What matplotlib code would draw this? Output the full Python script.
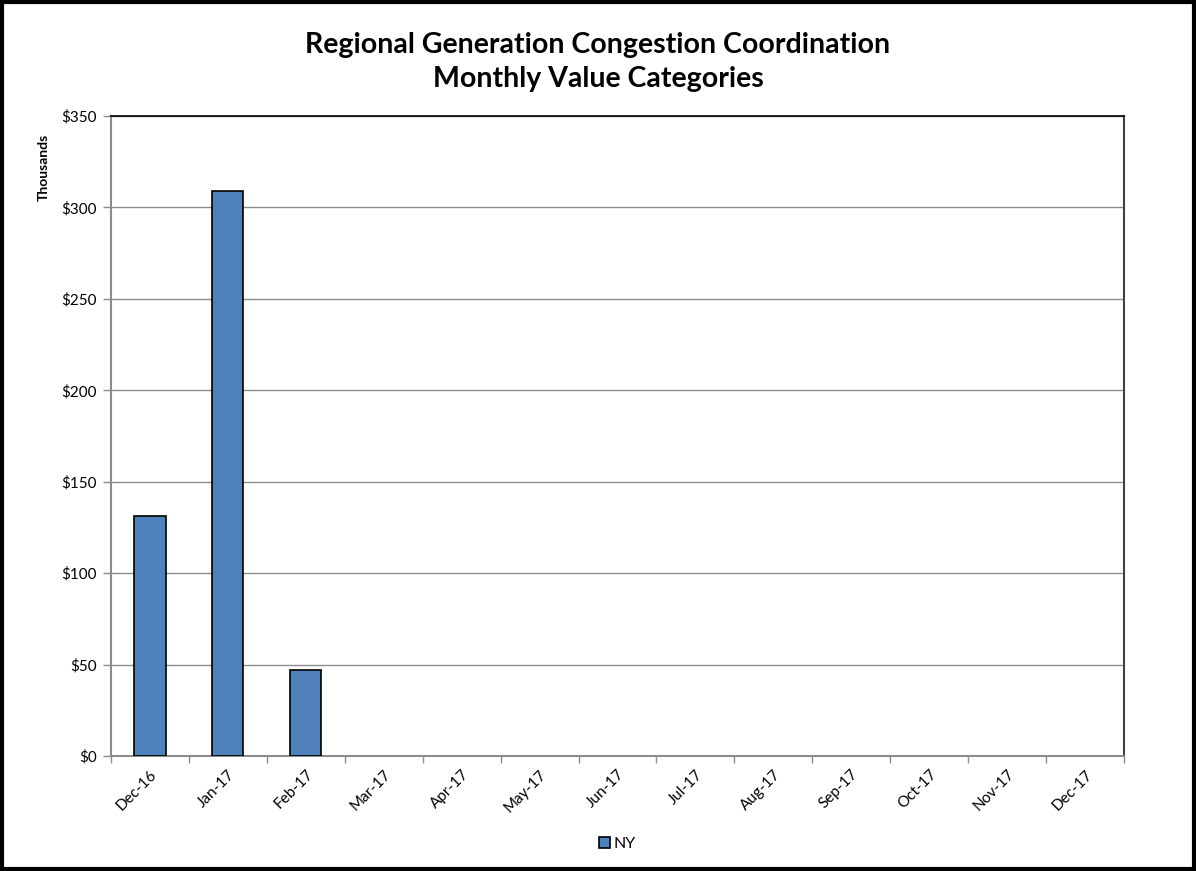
import matplotlib
matplotlib.use("Agg")
import matplotlib.pyplot as plt
from matplotlib.patches import Rectangle
import numpy as np

months = ["Dec-16", "Jan-17", "Feb-17", "Mar-17", "Apr-17", "May-17", "Jun-17",
          "Jul-17", "Aug-17", "Sep-17", "Oct-17", "Nov-17", "Dec-17"]
ny_values = [131, 309, 47, 0, 0, 0, 0, 0, 0, 0, 0, 0, 0]
y_ticks = [0, 50, 100, 150, 200, 250, 300, 350]

plt.rcParams['font.family'] = ['Lato', 'DejaVu Sans']

fig = plt.figure(figsize=(11.96, 8.71), dpi=100)
ax = fig.add_axes([0.0928, 0.132, 0.847, 0.7348])

x = np.arange(len(months))
lws = [1.2 if v > 0 else 0 for v in ny_values]
ax.bar(x, ny_values, width=0.4, color="#4F81BD", edgecolor="black", linewidth=lws,
       label="NY", zorder=3)

ax.set_xlim(-0.5, len(months) - 0.5)
ax.set_ylim(0, 350)
ax.set_yticks(y_ticks)
ax.set_yticklabels([f"${v}" for v in y_ticks], fontsize=11)
ax.yaxis.grid(True, color="#8C8C8C", linewidth=1, zorder=0)
ax.set_xticks(x)
ax.set_xticklabels(months, rotation=45, ha="right", rotation_mode="anchor", fontsize=11)
ax.tick_params(axis="x", which="major", length=0, pad=8)
ax.set_xticks(np.arange(-0.5, len(months)), minor=True)
ax.tick_params(axis="x", which="minor", length=5, color="#8C8C8C", width=1)
ax.tick_params(axis="y", length=6, color="#8C8C8C", width=1, pad=4)

for s in ["left", "bottom"]:
    ax.spines[s].set_color("#8C8C8C")
    ax.spines[s].set_linewidth(1.5)
ax.spines["top"].set_color("black")
ax.spines["top"].set_linewidth(1.2)
ax.spines["right"].set_color("#404040")
ax.spines["right"].set_linewidth(1.5)

ax.set_ylabel("Thousands", fontsize=10, fontweight="bold")
ax.yaxis.set_label_coords(-0.06, 0.92)

fig.text(0.5, 0.929, "Regional Generation Congestion Coordination\nMonthly Value Categories",
         ha="center", va="center", fontsize=20.5, fontweight="bold", linespacing=1.4)

leg = ax.legend(loc="center", bbox_to_anchor=(0.5, -0.1377), bbox_transform=ax.transAxes,
                frameon=False, fontsize=11.5, handlelength=0.7, handleheight=0.7,
                handletextpad=0.2)

fig.patches.append(Rectangle((0.002, 0.002), 0.996, 0.996, transform=fig.transFigure,
                             fill=False, edgecolor="black", linewidth=3))

fig.savefig("out.png", dpi=100)
